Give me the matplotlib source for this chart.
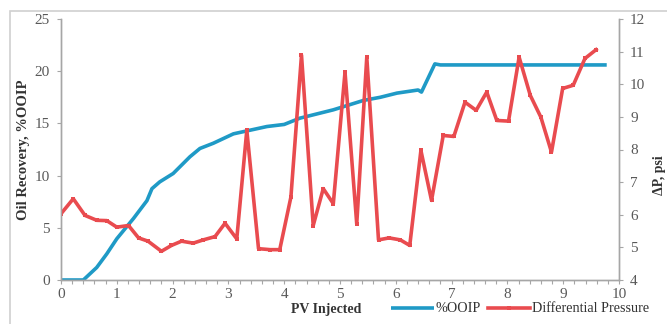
import matplotlib.pyplot as plt
from matplotlib.patches import Rectangle
from matplotlib.ticker import MultipleLocator

plt.rcParams["font.family"] = "serif"
plt.rcParams["font.serif"] = ["Liberation Serif", "DejaVu Serif"]

# %OOIP (left axis)
pv_ooip = [0, 0.4, 0.64, 0.82, 1.0, 1.3, 1.54, 1.63, 1.77, 2.01, 2.31, 2.49,
           2.73, 3.09, 3.69, 4.0, 4.28, 4.88, 5.42, 5.72, 6.02, 6.40, 6.46,
           6.70, 6.80, 9.78]
ooip = [0, 0, 1.2, 2.5, 3.95, 5.9, 7.6, 8.75, 9.4, 10.2, 11.8, 12.6,
        13.1, 14.0, 14.7, 14.9, 15.5, 16.3, 17.2, 17.5, 17.9, 18.2, 18.0,
        20.7, 20.6, 20.6]

# Differential pressure (right axis)
pv_dp = [0, 0.22, 0.43, 0.64, 0.82, 1.0, 1.21, 1.39, 1.56, 1.80, 1.98, 2.16,
         2.37, 2.55, 2.76, 2.94, 3.15, 3.33, 3.54, 3.75, 3.92, 4.12, 4.31,
         4.52, 4.70, 4.88, 5.09, 5.30, 5.48, 5.69, 5.88, 6.08, 6.25, 6.45,
         6.64, 6.85, 7.04, 7.24, 7.44, 7.63, 7.81, 8.02, 8.21, 8.41, 8.60,
         8.79, 8.99, 9.18, 9.39, 9.59]
dp = [6.03, 6.49, 5.98, 5.83, 5.82, 5.62, 5.67, 5.29, 5.19, 4.88, 5.06, 5.19,
      5.13, 5.23, 5.33, 5.74, 5.26, 8.59, 4.96, 4.93, 4.93, 6.54, 10.89,
      5.67, 6.80, 6.34, 10.37, 5.72, 10.83, 5.23, 5.29, 5.23, 5.06, 7.97,
      6.44, 8.43, 8.40, 9.45, 9.20, 9.76, 8.89, 8.87, 10.83, 9.66, 8.99,
      7.92, 9.87, 9.97, 10.79, 11.06]

blue = "#1f9ac6"
red = "#e94b4f"
grey = "#a6a6a6"
txt = "#595959"

fig = plt.figure(figsize=(6.67, 3.24), dpi=100)
ax = fig.add_axes([61 / 667, 1 - 280 / 324, 558 / 667, 261 / 324])
ax2 = ax.twinx()

l1, = ax.plot(pv_ooip, ooip, color=blue, lw=2.6, solid_capstyle="butt",
              solid_joinstyle="round")
l2, = ax2.plot(pv_dp, dp, color=red, lw=2.6, marker="s", ms=3.5,
               markeredgewidth=0, solid_joinstyle="round")

ax.set_xlim(0, 10)
ax.set_ylim(0, 25)
ax2.set_ylim(4, 12)
ax.xaxis.set_major_locator(MultipleLocator(1))
ax.xaxis.set_minor_locator(MultipleLocator(0.2))
ax.yaxis.set_major_locator(MultipleLocator(5))
ax2.yaxis.set_major_locator(MultipleLocator(1))

for a in (ax, ax2):
    for s in a.spines.values():
        s.set_color(grey)
        s.set_linewidth(1.0)
    a.spines["top"].set_visible(False)
    a.tick_params(which="both", direction="out", color=grey, labelcolor=txt,
                  labelsize=11, length=3, width=0.8)
ax.tick_params(axis="x", which="major", pad=3)
ax.tick_params(axis="y", pad=5)
ax2.tick_params(axis="y", pad=5)

ax.set_ylabel("Oil Recovery, %OOIP", fontsize=10.5, fontweight="bold",
              color="#333333")
ax.yaxis.set_label_coords(-0.0556, 0.5)
ax2.set_ylabel("\u0394P, psi", fontsize=10, fontweight="bold",
               color="#333333")
ax2.yaxis.set_label_coords(1.061, 0.40)

fig.text(326 / 667, 1 - 310 / 324, "PV Injected", ha="center", va="center",
         fontsize=10, fontweight="bold", color="#333333")

fig.legend([l1, l2], ["%OOIP", "Differential Pressure"], ncol=2,
           loc="center", bbox_to_anchor=(520 / 667, 1 - 309 / 324),
           frameon=False, fontsize=10.2, handlelength=3.0,
           handletextpad=0.1, columnspacing=0.5, labelcolor="#333333")

fig.add_artist(Rectangle((10 / 667, -0.5), 2, 1 - 11 / 324 + 0.5,
                         transform=fig.transFigure, fill=False,
                         edgecolor="#d0d0d0", lw=1.2))

fig.savefig("out.png", dpi=100, facecolor="white")
